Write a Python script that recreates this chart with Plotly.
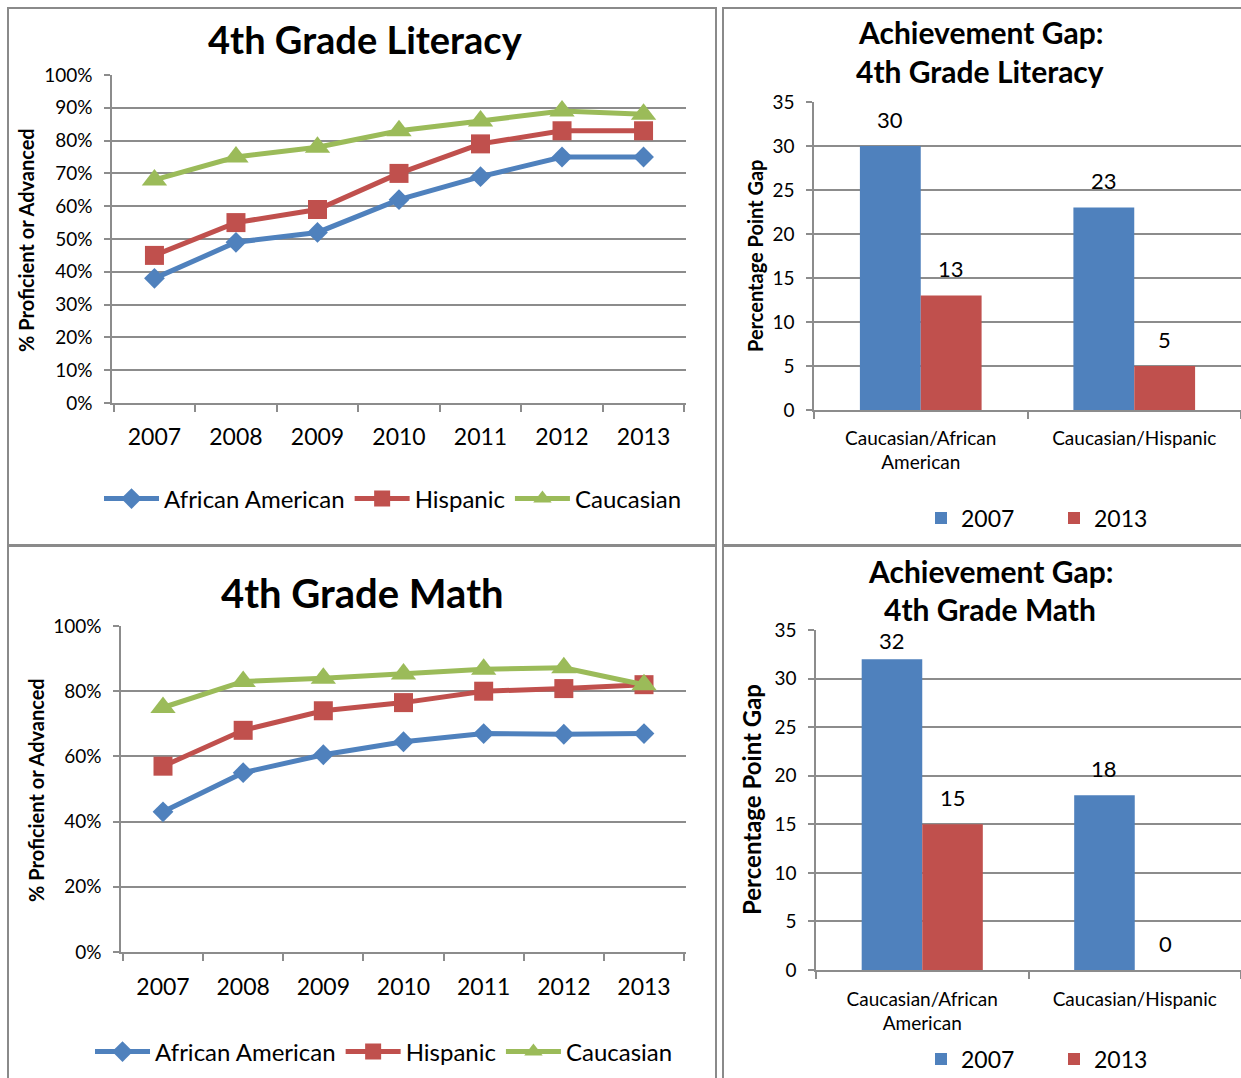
import plotly.graph_objects as go

# ---------------- data ----------------
years = ["2007", "2008", "2009", "2010", "2011", "2012", "2013"]

lit_african_american = [38, 49, 52, 62, 69, 75, 75]
lit_hispanic = [45, 55, 59, 70, 79, 83, 83]
lit_caucasian = [68, 75, 78, 83, 86, 89, 88]

math_african_american = [43, 55, 60.5, 64.5, 67, 66.8, 67]
math_hispanic = [57, 68, 74, 76.5, 80, 80.8, 82]
math_caucasian = [75, 83, 84, 85.3, 86.7, 87.2, 82]

gap_categories = ["Caucasian/African<br>American", "Caucasian/Hispanic"]
lit_gap_2007 = [30, 23]
lit_gap_2013 = [13, 5]
math_gap_2007 = [32, 18]
math_gap_2013 = [15, 0]

series_names = ["African American", "Hispanic", "Caucasian"]
bar_years = ["2007", "2013"]

# ---------------- style ----------------
W, H = 1241, 1078
FONT = "Lato"
BLUE, RED, GREEN = "#4F81BD", "#C0504D", "#9BBB59"
GRID = "#8c8c8c"
BORDER = "#8a8a8a"


def fx(px):
    return px / W


def fy(py):
    return 1 - py / H


fig = go.Figure()

line_styles = [
    (BLUE, "diamond", 16),
    (RED, "square", 19),
    (GREEN, "triangle-up", 22),
]

# Literacy lines (xaxis/yaxis)
for name, vals, (col, sym, sz) in zip(series_names,
                                      [lit_african_american, lit_hispanic, lit_caucasian],
                                      line_styles):
    fig.add_trace(go.Scatter(x=years, y=vals, name=name, mode="lines+markers",
                             line=dict(color=col, width=5),
                             marker=dict(symbol=sym, size=sz, color=col),
                             xaxis="x", yaxis="y", legend="legend"))

# Math lines (xaxis3/yaxis3)
for name, vals, (col, sym, sz) in zip(series_names,
                                      [math_african_american, math_hispanic, math_caucasian],
                                      line_styles):
    fig.add_trace(go.Scatter(x=years, y=vals, name=name, mode="lines+markers",
                             line=dict(color=col, width=5),
                             marker=dict(symbol=sym, size=sz, color=col),
                             xaxis="x3", yaxis="y3", legend="legend3"))

BARGAP = 0.43
# Literacy gap bars (xaxis2/yaxis2)
for yr, vals, col in zip(bar_years, [lit_gap_2007, lit_gap_2013], [BLUE, RED]):
    fig.add_trace(go.Bar(x=gap_categories, y=vals, name=yr, marker_color=col,
                         xaxis="x2", yaxis="y2", legend="legend2"))
# Math gap bars (xaxis4/yaxis4)
for yr, vals, col in zip(bar_years, [math_gap_2007, math_gap_2013], [BLUE, RED]):
    fig.add_trace(go.Bar(x=gap_categories, y=vals, name=yr, marker_color=col,
                         xaxis="x4", yaxis="y4", legend="legend4"))

annotations = []
# bar value labels (labels near the top of the axis sit a little closer to the bar)
half = (1 - BARGAP) / 4
for xa, ya, series in [("x2", "y2", [lit_gap_2007, lit_gap_2013]),
                       ("x4", "y4", [math_gap_2007, math_gap_2013])]:
    for k, vals in enumerate(series):
        off = -half if k == 0 else half
        for i, v in enumerate(vals):
            annotations.append(dict(x=i + off, y=v, xref=xa, yref=ya, text=str(v),
                                    showarrow=False, yshift=19 if v > 31 else 27,
                                    xanchor="center", yanchor="middle",
                                    font=dict(family=FONT, size=22, color="black")))


def label(text, x, y, size, angle=0):
    return dict(text=text, x=fx(x), y=fy(y), xref="paper", yref="paper",
                xanchor="center", yanchor="middle", showarrow=False, textangle=angle,
                font=dict(family=FONT, size=size, color="black"))


annotations += [
    label("<b>4th Grade Literacy</b>", 365, 39, 38),
    label("<b>4th Grade Math</b>", 362, 593, 40),
    label("<b>Achievement Gap:</b>", 980, 32, 30),
    label("<b>4th Grade Literacy</b>", 980, 71, 30),
    label("<b>Achievement Gap:</b>", 990, 571, 30),
    label("<b>4th Grade Math</b>", 990, 609, 30),
    label("<b>% Proficient or Advanced</b>", 26, 240, 20, -90),
    label("<b>% Proficient or Advanced</b>", 36, 790, 20, -90),
    label("<b>Percentage Point Gap</b>", 755, 256, 20, -90),
    label("<b>Percentage Point Gap</b>", 752, 800, 24, -90),
]

# panel borders
shapes = []
for x0, y0, x1, y1 in [(8, 8, 716, 545), (723, 8, 1250, 545),
                       (8, 546, 716, 1090), (723, 546, 1250, 1090)]:
    shapes.append(dict(type="rect", xref="paper", yref="paper",
                       x0=fx(x0), x1=fx(x1), y0=fy(y1), y1=fy(y0),
                       line=dict(color=BORDER, width=2), fillcolor="rgba(0,0,0,0)"))


def xcat(domain, size, standoff):
    return dict(domain=domain, type="category", showline=True, linecolor=GRID, linewidth=1.5,
                ticks="outside", ticklen=7, tickcolor=GRID, tickwidth=1.5, tickson="boundaries",
                showgrid=False, automargin=False, ticklabelstandoff=standoff,
                tickfont=dict(family=FONT, size=size, color="black"), fixedrange=True)


def yax(domain, anchor, rng, dtick, suffix, size):
    return dict(domain=domain, anchor=anchor, range=rng, dtick=dtick, ticksuffix=suffix,
                showline=True, linecolor=GRID, linewidth=1.5, ticks="outside", ticklen=6,
                tickcolor=GRID, tickwidth=1.5, showgrid=True, gridcolor=GRID, gridwidth=1.5,
                zeroline=False, ticklabelstandoff=8, automargin=False, fixedrange=True,
                tickfont=dict(family=FONT, size=size, color="black"))


def leg(x, y, size, **kw):
    return dict(orientation="h", x=fx(x), y=fy(y), xanchor="center", yanchor="middle",
                font=dict(family=FONT, size=size, color="black"),
                bgcolor="rgba(0,0,0,0)", **kw)


fig.update_layout(
    template="none",
    width=W, height=H, margin=dict(l=0, r=0, t=0, b=0, pad=0, autoexpand=False),
    paper_bgcolor="white", plot_bgcolor="white",
    font=dict(family=FONT, color="black"),
    showlegend=True, barmode="group", bargap=BARGAP, bargroupgap=0,
    xaxis=dict(xcat([fx(112), fx(686)], 23, 13), anchor="y"),
    yaxis=yax([fy(403), fy(75)], "x", [0, 100], 10, "%", 19),
    xaxis3=dict(xcat([fx(121), fx(686)], 23, 14), anchor="y3"),
    yaxis3=yax([fy(952), fy(626)], "x3", [0, 100], 20, "%", 19),
    xaxis2=dict(xcat([fx(814), 1.0], 19, 10), anchor="y2"),
    yaxis2=yax([fy(410), fy(102)], "x2", [0, 35], 5, "", 19),
    xaxis4=dict(xcat([fx(816), 1.0], 19, 11), anchor="y4"),
    yaxis4=yax([fy(970), fy(630)], "x4", [0, 35], 5, "", 19),
    legend=leg(393, 499, 24, itemwidth=55, entrywidth=0),
    legend3=leg(384, 1052, 24, itemwidth=55),
    legend2=leg(1054, 518, 23, entrywidth=88),
    legend4=leg(1054, 1059, 23, entrywidth=88),
    annotations=annotations,
    shapes=shapes,
)

# pin the figure to the page's top-left corner (no default body margin)
pin = ("document.body.style.margin='0';document.body.style.overflow='hidden';"
       "var gd=document.getElementById('{plot_id}');gd.style.position='fixed';"
       "gd.style.left='0px';gd.style.top='0px';")

fig.write_html("out.html", post_script=pin, config={"displayModeBar": False})
